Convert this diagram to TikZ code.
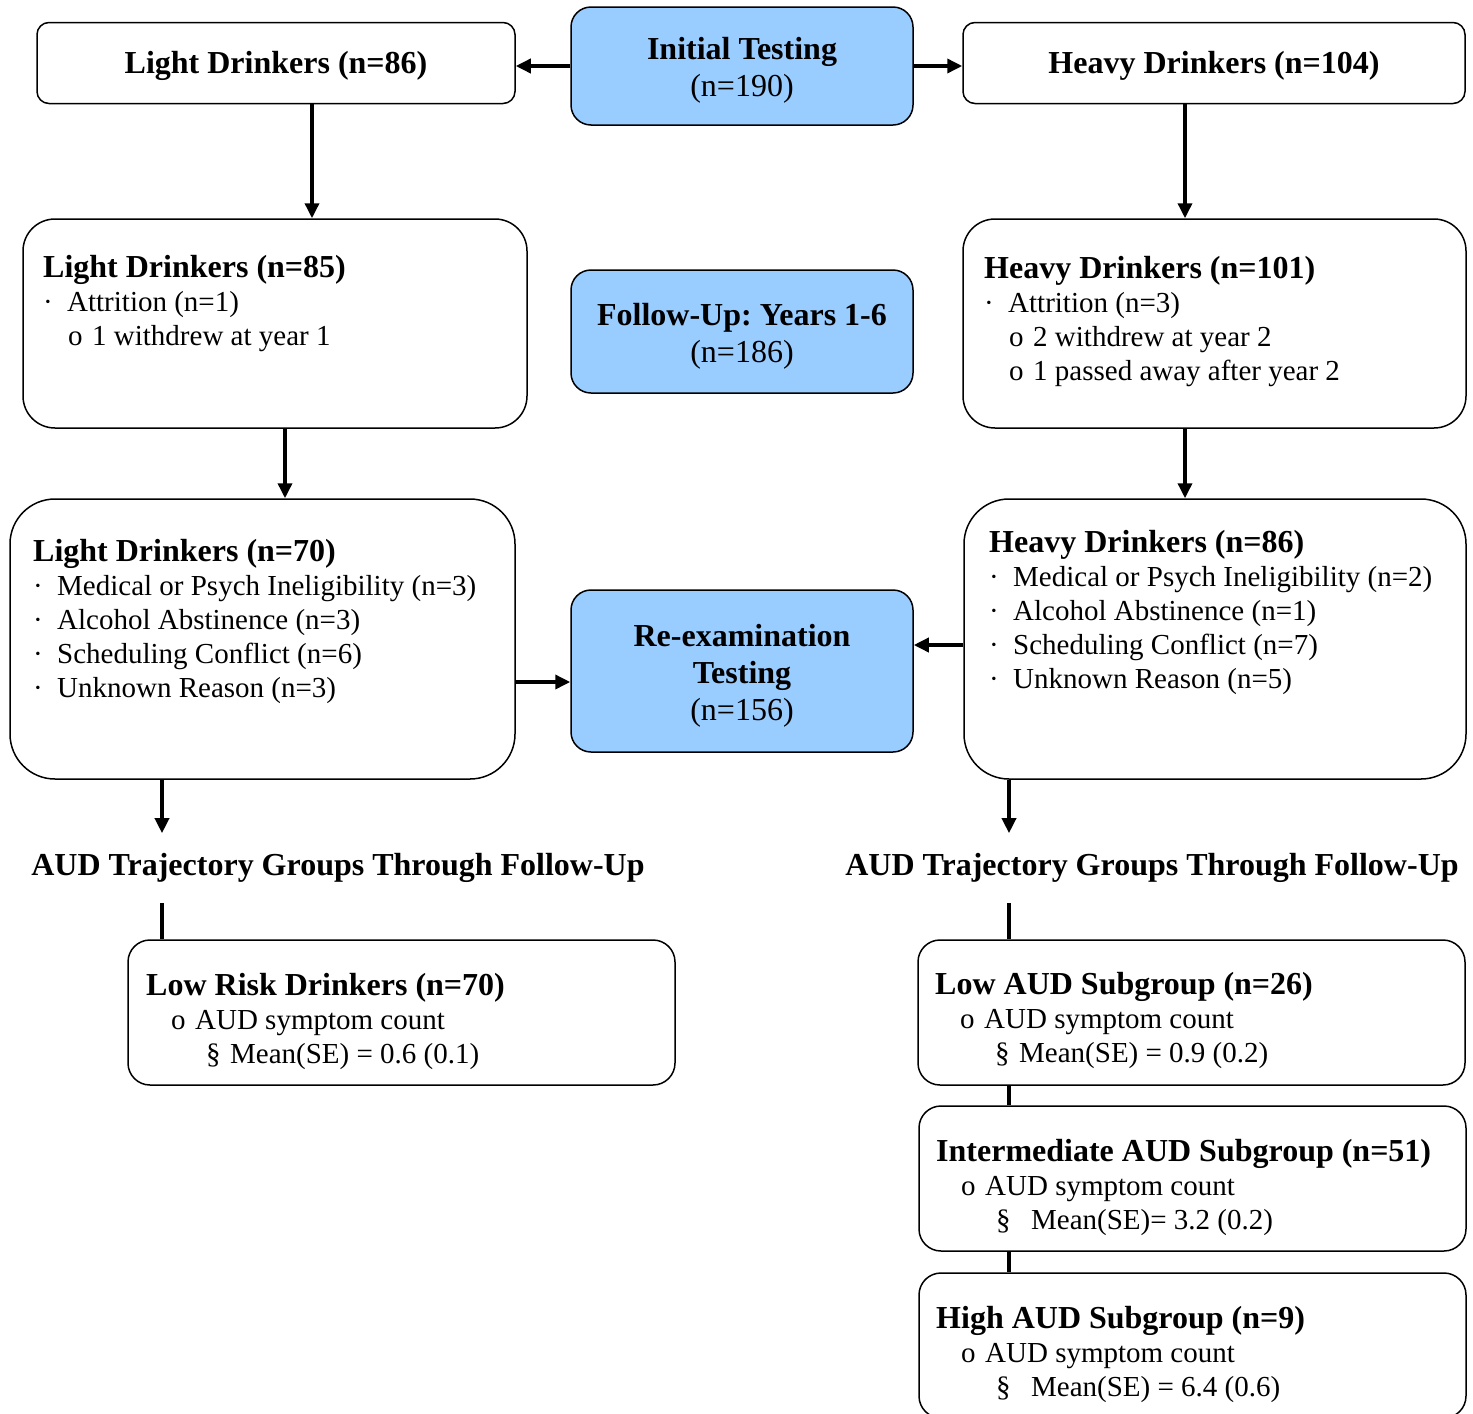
\documentclass[tikz,border=0pt]{standalone}
\usepackage{fontspec}
\setmainfont{Liberation Serif}
\usetikzlibrary{arrows.meta,positioning}
\definecolor{phblue}{HTML}{99CCFF}
\frenchspacing

% list lines inside the boxes
\newcommand{\dotitem}[1]{\makebox[24pt][l]{·}#1}
\newcommand{\ciritem}[1]{\hspace*{25pt}\makebox[24pt][l]{o}#1}
\newcommand{\secitem}[2][24pt]{\hspace*{60pt}\makebox[#1][l]{§}#2}
\newcommand{\boxhead}[1]{\textbf{\fontsize{32}{34}\selectfont #1}}
\newcommand{\topstrut}[1]{\rule{0pt}{#1}}

\begin{document}
\begin{tikzpicture}[x=1pt,y=-1pt,
  grpbox/.style={draw=black, line width=1.5pt, fill=white, rounded corners=#1, inner sep=0pt},
  grpbox/.default=30pt,
  phase/.style={draw=black, line width=1.5pt, fill=phblue, rounded corners=20pt,
                minimum width=342pt, align=center, font=\fontsize{32}{37}\selectfont},
  boxtxt/.style={anchor=north west, inner sep=0pt, align=left, font=\fontsize{29}{34}\selectfont},
  heading/.style={font=\bfseries\fontsize{32}{34}\selectfont, inner xsep=0pt, inner ysep=20pt},
  arr/.style={-{Triangle[length=15pt,width=14pt]}, line width=3.5pt},
  link/.style={line width=3.5pt}
]
\useasboundingbox (0,0) rectangle (1473,1414);

% phases
\node[phase, minimum height=118pt] (init) at (742,66) {\topstrut{31pt}\textbf{Initial Testing}\\(n=190)};
\node[phase, minimum height=123pt] (fu) at (742,331.5) {\topstrut{31pt}\textbf{Follow-Up: Years 1-6}\\(n=186)};
\node[phase, minimum height=162pt] (reex) at (742,671) {\topstrut{32pt}\textbf{Re-examination}\\\textbf{Testing}\\(n=156)};

% light drinkers
\node[grpbox=12pt, minimum width=478pt, minimum height=81pt, font=\bfseries\fontsize{32}{34}\selectfont] (ld86) at (276,63) {\topstrut{28pt}Light Drinkers (n=86)};
\node[grpbox=32pt, minimum width=504pt, minimum height=209pt] (ld85) at (275,323.5) {};
\node[boxtxt] (ld85txt) at (43,255) {\boxhead{Light Drinkers (n=85)}\\
  \dotitem{Attrition (n=1)}\\
  \ciritem{1 withdrew at year 1}};
\node[grpbox=45pt, minimum width=505pt, minimum height=280pt] (ld70) at (262.5,639) {};
\node[boxtxt] (ld70txt) at (33,539) {\boxhead{Light Drinkers (n=70)}\\
  \dotitem{Medical or Psych Ineligibility (n=3)}\\
  \dotitem{Alcohol Abstinence (n=3)}\\
  \dotitem{Scheduling Conflict (n=6)}\\
  \dotitem{Unknown Reason (n=3)}};

% heavy drinkers
\node[grpbox=12pt, minimum width=502pt, minimum height=81pt, font=\bfseries\fontsize{32}{34}\selectfont] (hd104) at (1214,63) {\topstrut{28pt}Heavy Drinkers (n=104)};
\node[grpbox=32pt, minimum width=503pt, minimum height=209pt] (hd101) at (1214.5,323.5) {};
\node[boxtxt] (hd101txt) at (984,256) {\boxhead{Heavy Drinkers (n=101)}\\
  \dotitem{Attrition (n=3)}\\
  \ciritem{2 withdrew at year 2}\\
  \ciritem{1 passed away after year 2}};
\node[grpbox=45pt, minimum width=502pt, minimum height=280pt] (hd86) at (1215,639) {};
\node[boxtxt] (hd86txt) at (989,530) {\boxhead{Heavy Drinkers (n=86)}\\
  \dotitem{Medical or Psych Ineligibility (n=2)}\\
  \dotitem{Alcohol Abstinence (n=1)}\\
  \dotitem{Scheduling Conflict (n=7)}\\
  \dotitem{Unknown Reason (n=5)}};

% trajectory groups
\node[heading] (trajL) at (338,868) {AUD Trajectory Groups Through Follow-Up};
\node[heading] (trajR) at (1152,868) {AUD Trajectory Groups Through Follow-Up};

\node[grpbox=22pt, minimum width=547pt, minimum height=145pt] (lowrisk) at (401.5,1012.5) {};
\node[boxtxt] (lowrisktxt) at (146,973) {\boxhead{Low Risk Drinkers (n=70)}\\
  \ciritem{AUD symptom count}\\
  \secitem{Mean(SE) = 0.6 (0.1)}};
\node[grpbox=22pt, minimum width=547pt, minimum height=145pt] (lowaud) at (1191.5,1012.5) {};
\node[boxtxt] (lowaudtxt) at (935,972) {\boxhead{Low AUD Subgroup (n=26)}\\
  \ciritem{AUD symptom count}\\
  \secitem{Mean(SE) = 0.9 (0.2)}};
\node[grpbox=22pt, minimum width=547pt, minimum height=145pt] (inter) at (1192.5,1178.5) {};
\node[boxtxt] (intertxt) at (936,1139) {\boxhead{Intermediate AUD Subgroup (n=51)}\\
  \ciritem{AUD symptom count}\\
  \secitem[35pt]{Mean(SE)= 3.2 (0.2)}};
\node[grpbox=22pt, minimum width=547pt, minimum height=145pt] (high) at (1192.5,1345.5) {};
\node[boxtxt] (hightxt) at (936,1306) {\boxhead{High AUD Subgroup (n=9)}\\
  \ciritem{AUD symptom count}\\
  \secitem[35pt]{Mean(SE) = 6.4 (0.6)}};

% connector rails
\coordinate (ay0) at (0,66);
\coordinate (ay1) at (0,682);
\coordinate (ay2) at (0,645);
\coordinate (ax1) at (312,0);
\coordinate (ax2) at (1185,0);
\coordinate (ax3) at (285,0);
\coordinate (lx) at (162,0);
\coordinate (rx) at (1009,0);

\draw[arr] (init.west |- ay0) -- (ld86.east |- ay0);
\draw[arr] (init.east |- ay0) -- (hd104.west |- ay0);
\draw[arr] (ld86.south -| ax1) -- (ld85.north -| ax1);
\draw[arr] (hd104.south -| ax2) -- (hd101.north -| ax2);
\draw[arr] (ld85.south -| ax3) -- (ld70.north -| ax3);
\draw[arr] (hd101.south -| ax2) -- (hd86.north -| ax2);
\draw[arr] (ld70.east |- ay1) -- (reex.west |- ay1);
\draw[arr] (hd86.west |- ay2) -- (reex.east |- ay2);
\draw[arr] (ld70.south -| lx) -- (trajL.north -| lx);
\draw[arr] (hd86.south -| rx) -- (trajR.north -| rx);
\draw[link] (trajL.south -| lx) -- (lowrisk.north -| lx);
\draw[link] (trajR.south -| rx) -- (lowaud.north -| rx);
\draw[link] (lowaud.south -| rx) -- (inter.north -| rx);
\draw[link] (inter.south -| rx) -- (high.north -| rx);
\end{tikzpicture}
\end{document}
